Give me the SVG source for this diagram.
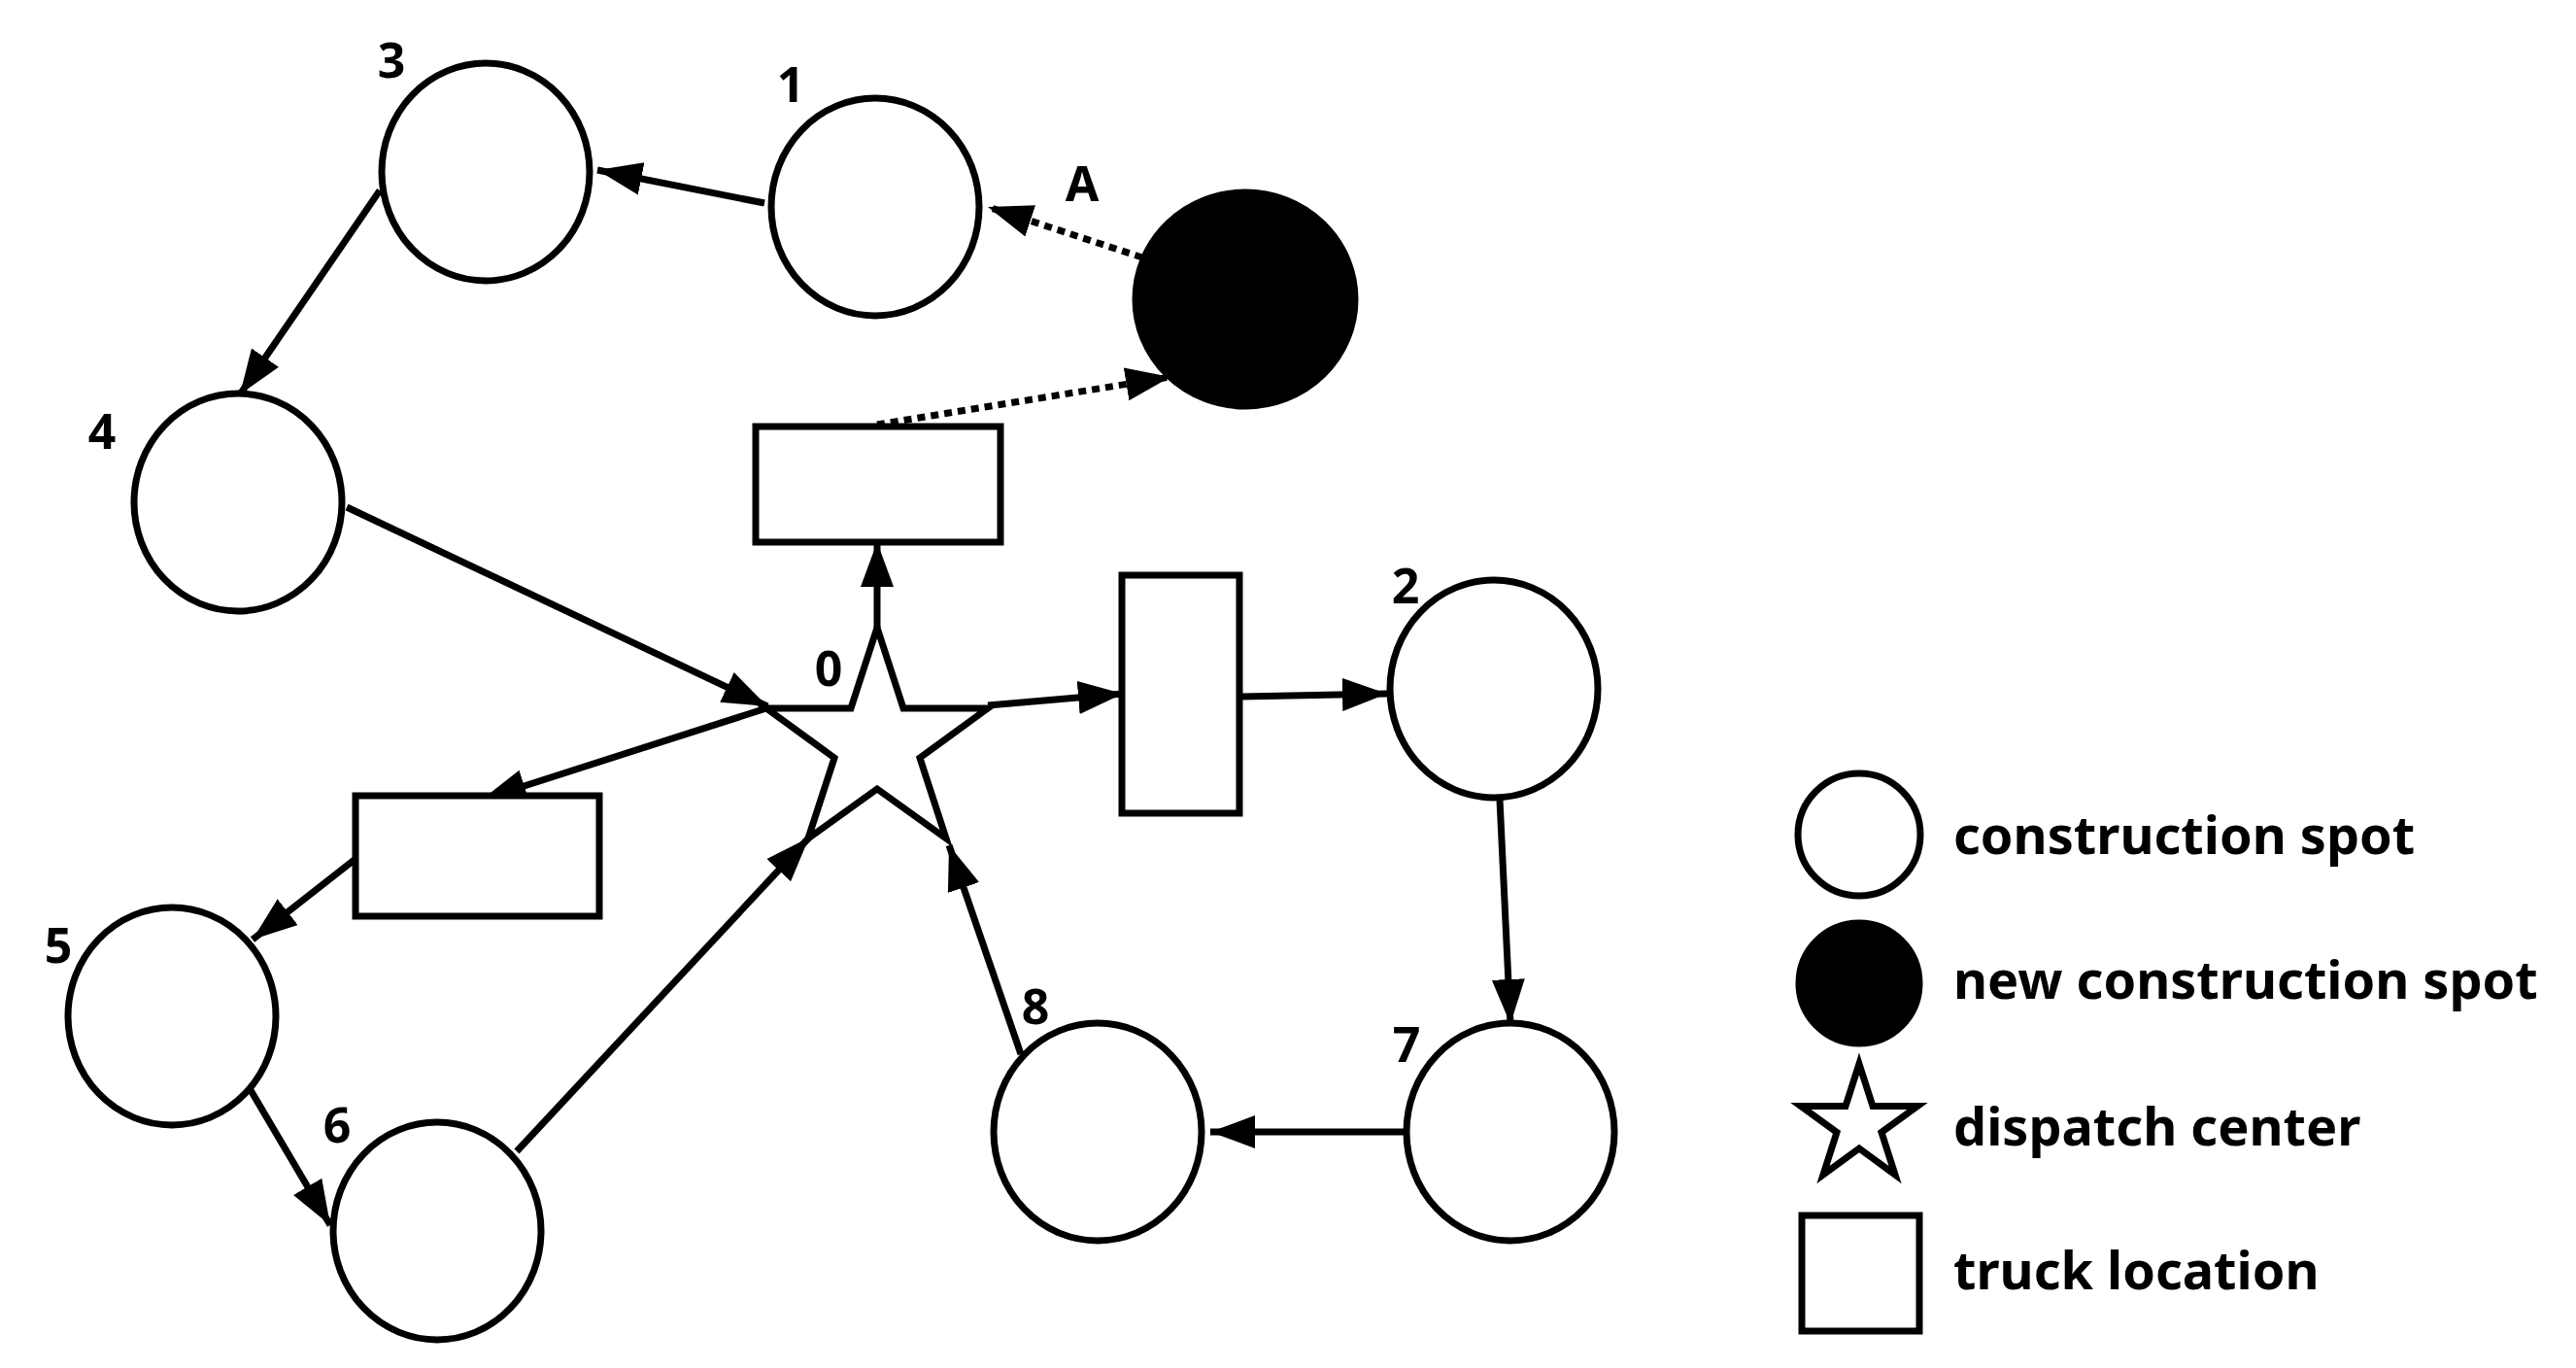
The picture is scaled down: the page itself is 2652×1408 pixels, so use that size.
<svg xmlns="http://www.w3.org/2000/svg" width="2652" height="1408" viewBox="0 0 2652 1408">
<style>
.n{fill:#fff;stroke:#000;stroke-width:7}
.f{fill:#000;stroke:#000;stroke-width:7}
.e{stroke:#000;stroke-width:7;fill:none;marker-end:url(#ah)}
.d{stroke-dasharray:8 6}
.l{font-family:"Noto Sans","DejaVu Sans",sans-serif;font-weight:bold;font-size:50px;text-anchor:middle;fill:#000}
.t{font-family:"Noto Sans","DejaVu Sans",sans-serif;font-weight:bold;font-size:54px;fill:#000}
</style>
<defs>
<marker id="ah" markerUnits="userSpaceOnUse" markerWidth="50" markerHeight="36" refX="46" refY="17" orient="auto" viewBox="0 0 50 36"><path d="M0,0 L46,17 L0,34 z" fill="#000"/></marker>
</defs>
<rect width="2652" height="1408" fill="#fff"/>
<g id="connectors">
<line class="e" x1="787" y1="209" x2="615" y2="175"/>
<line class="e" x1="391" y1="196" x2="247" y2="406"/>
<line class="e" x1="357" y1="522" x2="790" y2="727"/>
<line class="e" x1="792" y1="728" x2="496" y2="823"/>
<line class="e" x1="366" y1="884" x2="260" y2="967"/>
<line class="e" x1="258" y1="1122" x2="340" y2="1261"/>
<line class="e" x1="532" y1="1185" x2="833" y2="862"/>
<line class="e" x1="1051" y1="1085" x2="977" y2="870"/>
<line class="e" x1="1445" y1="1165" x2="1246" y2="1165"/>
<line class="e" x1="1544" y1="823" x2="1555" y2="1054"/>
<line class="e" x1="1277" y1="717" x2="1428" y2="714"/>
<line class="e" x1="1017" y1="726" x2="1156" y2="714"/>
<line class="e" x1="903" y1="646" x2="903" y2="558"/>
<line class="e d" x1="1176" y1="265" x2="1017" y2="213"/>
<line class="e d" x1="903" y1="437" x2="1205" y2="388"/>
</g>
<g id="n3"><ellipse class="n" cx="500" cy="177" rx="107" ry="112"/><text class="l" x="403" y="80">3</text></g>
<g id="n1"><ellipse class="n" cx="901" cy="213" rx="107" ry="112"/><text class="l" x="814" y="105">1</text></g>
<g id="nA"><ellipse class="f" cx="1282" cy="308" rx="113" ry="110"/><text class="l" x="1114" y="207">A</text></g>
<g id="n4"><ellipse class="n" cx="245" cy="517" rx="107" ry="112"/><text class="l" x="105" y="462">4</text></g>
<g id="n2"><ellipse class="n" cx="1538" cy="709" rx="107" ry="112"/><text class="l" x="1447" y="621">2</text></g>
<g id="n5"><ellipse class="n" cx="177" cy="1046" rx="107" ry="112"/><text class="l" x="60" y="991">5</text></g>
<g id="n6"><ellipse class="n" cx="450" cy="1267" rx="107" ry="112"/><text class="l" x="347" y="1176">6</text></g>
<g id="n8"><ellipse class="n" cx="1130" cy="1165" rx="107" ry="112"/><text class="l" x="1066" y="1054">8</text></g>
<g id="n7"><ellipse class="n" cx="1555" cy="1165" rx="107" ry="112"/><text class="l" x="1448" y="1093">7</text></g>
<g id="n0"><polygon class="n" points="903,646 930,729 1017,729 947,780 974,863 903,812 832,863 859,780 789,729 876,729"/><text class="l" x="853" y="706">0</text></g>
<g id="truck1"><rect class="n" x="778" y="439" width="252" height="119"/></g>
<g id="truck2"><rect class="n" x="1155" y="592" width="121" height="245"/></g>
<g id="truck3"><rect class="n" x="366" y="819" width="251" height="124"/></g>
<g id="legend">
<circle class="n" cx="1914" cy="859" r="63"/>
<circle class="f" cx="1914" cy="1012" r="62"/>
<polygon class="n" points="1914,1095 1928,1138.5 1974,1138.5 1937,1165.4 1951,1209 1914,1182 1877,1209 1891,1165.4 1854,1138.5 1900,1138.5"/>
<rect class="n" x="1855" y="1251" width="121" height="119"/>
<text class="t" x="2011" y="879">construction spot</text>
<text class="t" x="2011" y="1028">new construction spot</text>
<text class="t" x="2011" y="1179">dispatch center</text>
<text class="t" x="2011" y="1327">truck location</text>
</g>
</svg>
